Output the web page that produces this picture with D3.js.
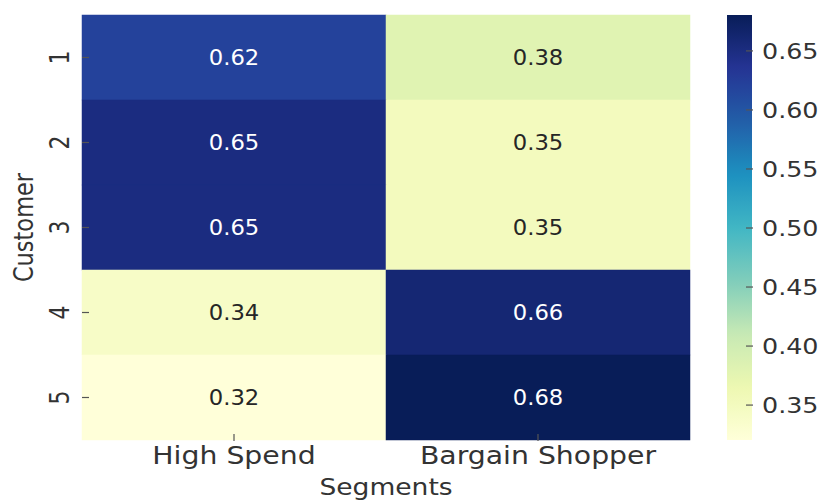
<!DOCTYPE html>
<html>
<head>
<meta charset="utf-8">
<script src="https://cdn.jsdelivr.net/npm/d3@7"></script>
<style>
  html, body { margin: 0; padding: 0; background: #fff; }
  svg text { font-family: "DejaVu Sans", sans-serif; }
</style>
</head>
<body>
<svg id="chart" width="823" height="503"></svg>
<script>
// Segment membership per customer
const customers = ["1", "2", "3", "4", "5"];
const segments = ["High Spend", "Bargain Shopper"];
const highSpend = [0.62, 0.65, 0.65, 0.34, 0.32];
const bargainShopper = [0.38, 0.35, 0.35, 0.66, 0.68];
const colorbarTicks = [0.35, 0.40, 0.45, 0.50, 0.55, 0.60, 0.65];
const xTitle = "Segments";
const yTitle = "Customer";

const plot = { left: 82, right: 690, top: 15, bottom: 440 };
const cbar = { left: 727, right: 752 };
const stretch = 1.18;   // glyphs are drawn slightly wide

const svg = d3.select("#chart");

const cells = [];
customers.forEach((c, i) => {
  cells.push({ row: c, col: segments[0], v: highSpend[i] });
  cells.push({ row: c, col: segments[1], v: bargainShopper[i] });
});

const x = d3.scaleBand().domain(segments).range([plot.left, plot.right]);
const y = d3.scaleBand().domain(customers).range([plot.top, plot.bottom]);
const ext = d3.extent(cells, d => d.v);
const color = d3.scaleSequential(d3.piecewise(d3.interpolateRgb, d3.schemeYlGnBu[9])).domain(ext);
const cy = d3.scaleLinear().domain(ext).range([plot.bottom, plot.top]);

// heatmap cells
svg.append("g")
  .selectAll("rect")
  .data(cells)
  .join("rect")
  .attr("x", d => x(d.col))
  .attr("y", d => y(d.row))
  .attr("width", x.bandwidth())
  .attr("height", y.bandwidth())
  .attr("fill", d => color(d.v))
  .attr("stroke", d => color(d.v))
  .attr("stroke-width", 0.5);

// value annotations
const lum = c => {
  const rgb = d3.rgb(c);
  const f = v => { v /= 255; return v <= 0.03928 ? v / 12.92 : Math.pow((v + 0.055) / 1.055, 2.4); };
  return 0.2126 * f(rgb.r) + 0.7152 * f(rgb.g) + 0.0722 * f(rgb.b);
};
svg.append("g")
  .selectAll("text")
  .data(cells)
  .join("text")
  .attr("transform", d => `translate(${x(d.col) + x.bandwidth() / 2},${y(d.row) + y.bandwidth() / 2}) scale(1.08,1)`)
  .attr("text-anchor", "middle")
  .attr("dy", "0.36em")
  .attr("font-size", 21)
  .attr("fill", d => lum(color(d.v)) > 0.408 ? "#262626" : "#ffffff")
  .text(d => d.v.toFixed(2));

// x axis
const gx = svg.append("g")
  .attr("transform", `translate(0,${plot.bottom + 1})`)
  .call(d3.axisBottom(x).tickSize(-7).tickSizeOuter(0));
gx.select(".domain").remove();
gx.selectAll(".tick line").attr("stroke", "#555").attr("stroke-width", 1.2);
gx.selectAll(".tick text")
  .attr("x", null).attr("y", null).attr("dy", null)
  .attr("transform", `translate(0,23) scale(${stretch},1)`)
  .attr("font-size", 24)
  .attr("fill", "#333");

// y axis
const gy = svg.append("g")
  .attr("transform", `translate(${plot.left},0)`)
  .call(d3.axisLeft(y).tickSize(-7).tickSizeOuter(0));
gy.select(".domain").remove();
gy.selectAll(".tick line").attr("stroke", "#555").attr("stroke-width", 1.2);
gy.selectAll(".tick text")
  .attr("x", null).attr("y", null).attr("dy", null)
  .attr("text-anchor", "middle")
  .attr("transform", `translate(-13,0) scale(${stretch},1) rotate(-90)`)
  .attr("font-size", 22)
  .attr("fill", "#333");

// axis titles
svg.append("text")
  .attr("transform", `translate(${(plot.left + plot.right) / 2},495) scale(${stretch},1)`)
  .attr("text-anchor", "middle")
  .attr("font-size", 22.5)
  .attr("fill", "#333")
  .text(xTitle);

svg.append("text")
  .attr("transform", `translate(33,${(plot.top + plot.bottom) / 2}) scale(${stretch},1) rotate(-90)`)
  .attr("text-anchor", "middle")
  .attr("font-size", 22.5)
  .attr("fill", "#333")
  .text(yTitle);

// colorbar
const grad = svg.append("defs").append("linearGradient")
  .attr("id", "cbar-grad")
  .attr("x1", 0).attr("y1", 1).attr("x2", 0).attr("y2", 0);
d3.range(0, 1.0001, 0.02).forEach(t => {
  grad.append("stop")
    .attr("offset", t)
    .attr("stop-color", color(ext[0] + t * (ext[1] - ext[0])));
});
svg.append("rect")
  .attr("x", cbar.left)
  .attr("y", cy(ext[1]))
  .attr("width", cbar.right - cbar.left)
  .attr("height", cy(ext[0]) - cy(ext[1]))
  .attr("fill", "url(#cbar-grad)");

const gc = svg.append("g")
  .attr("transform", `translate(${cbar.right + 1},0)`)
  .call(d3.axisRight(cy).tickValues(colorbarTicks).tickFormat(d3.format(".2f")).tickSize(-7).tickSizeOuter(0));
gc.select(".domain").remove();
gc.selectAll(".tick line").attr("stroke", "#555").attr("stroke-width", 1.2);
gc.selectAll(".tick text")
  .attr("x", null).attr("y", null)
  .attr("dy", "0.36em")
  .attr("text-anchor", "start")
  .attr("transform", `translate(9,0) scale(${stretch},1)`)
  .attr("font-size", 21.5)
  .attr("fill", "#333");
</script>
</body>
</html>
